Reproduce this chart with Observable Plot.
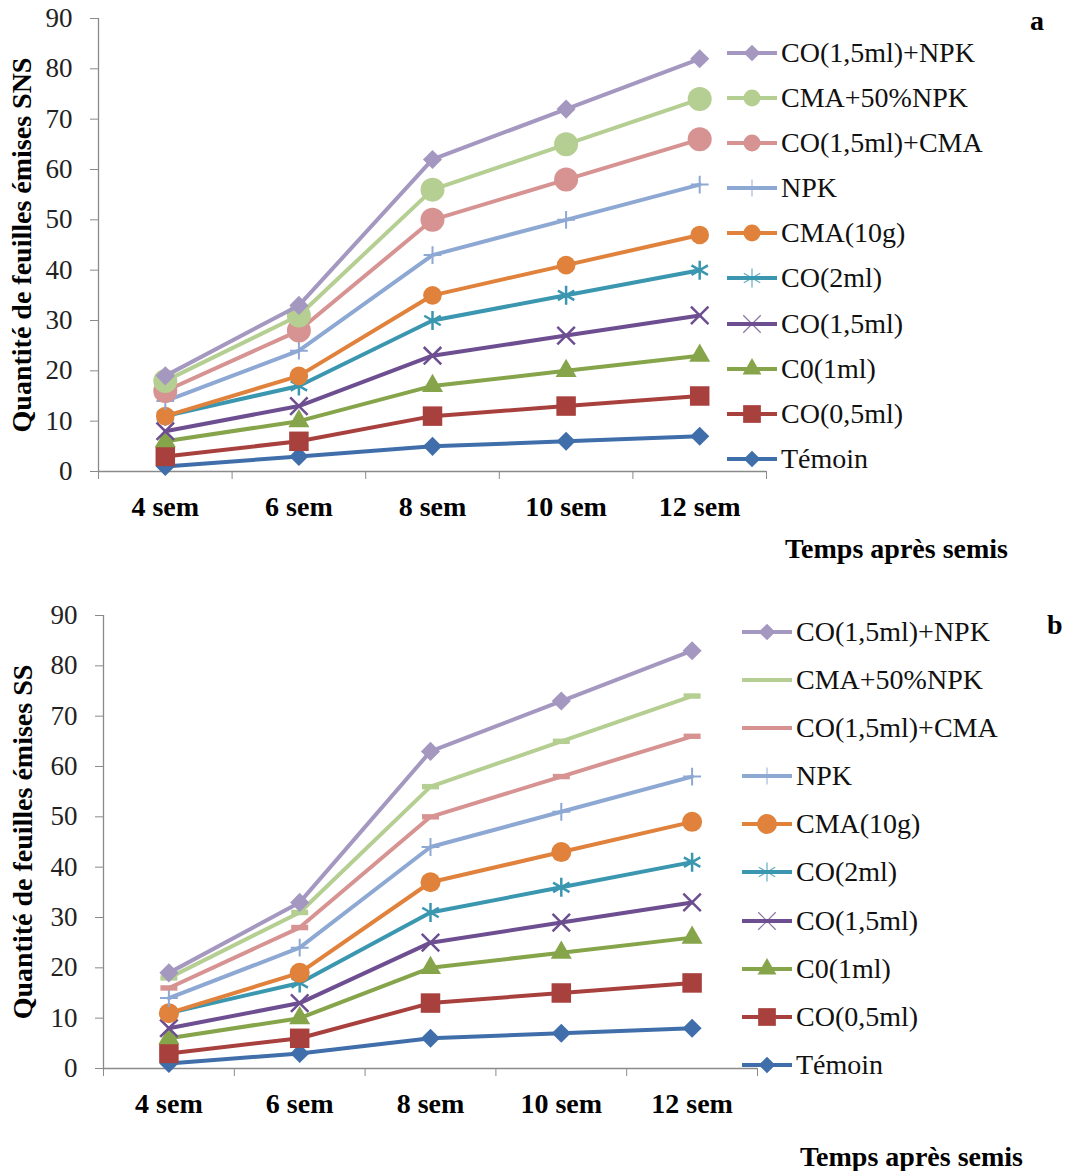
<!DOCTYPE html>
<html><head><meta charset="utf-8">
<script src="https://cdn.jsdelivr.net/npm/d3@7"></script>
<script src="https://cdn.jsdelivr.net/npm/@observablehq/plot@0.6"></script>
<style>
body{margin:0;background:#fff;}
#root{position:relative;width:1068px;height:1171px;font-family:"Liberation Serif","Times New Roman",serif;overflow:hidden;background:#fff;}
.abs{position:absolute;white-space:nowrap;}
.row{display:flex;align-items:center;white-space:nowrap;font-size:28px;line-height:28px;color:#111;}
.row svg{flex:none;margin-right:3px;}
.ttl{font-size:28px;line-height:28px;font-weight:bold;color:#000;}
</style></head><body><div id="root"></div>
<script>
// ---- categories & labels ----
const weeks = ["4 sem", "6 sem", "8 sem", "10 sem", "12 sem"];
const seriesNames = ["Témoin", "CO(0,5ml)", "C0(1ml)", "CO(1,5ml)", "CO(2ml)", "CMA(10g)", "NPK", "CO(1,5ml)+CMA", "CMA+50%NPK", "CO(1,5ml)+NPK"];
const yTicks = [0, 10, 20, 30, 40, 50, 60, 70, 80, 90];
const yTitleA = "Quantité de feuilles émises SNS";
const yTitleB = "Quantité de feuilles émises SS";
const xTitle = "Temps après semis";

// ---- panel a values ----
const aTemoin = [1, 3, 5, 6, 7];
const aCO05 = [3, 6, 11, 13, 15];
const aCO1 = [6, 10, 17, 20, 23];
const aCO15 = [8, 13, 23, 27, 31];
const aCO2 = [11, 17, 30, 35, 40];
const aCMA = [11, 19, 35, 41, 47];
const aNPK = [14, 24, 43, 50, 57];
const aCOCMA = [16, 28, 50, 58, 66];
const aCMA50 = [18, 31, 56, 65, 74];
const aCONPK = [19, 33, 62, 72, 82];

// ---- panel b values ----
const bTemoin = [1, 3, 6, 7, 8];
const bCO05 = [3, 6, 13, 15, 17];
const bCO1 = [6, 10, 20, 23, 26];
const bCO15 = [8, 13, 25, 29, 33];
const bCO2 = [11, 17, 31, 36, 41];
const bCMA = [11, 19, 37, 43, 49];
const bNPK = [14, 24, 44, 51, 58];
const bCOCMA = [16, 28, 50, 58, 66];
const bCMA50 = [18, 31, 56, 65, 74];
const bCONPK = [19, 33, 63, 73, 83];

// ---- styles ----
const colors = ["#3F6EAA", "#A8403D", "#86A44A", "#6D4F91", "#3B97B0", "#E0823C", "#8EA8D4", "#D69392", "#B5CE92", "#A497C0"];
const axisGray = "#8a8a8a";
const dash = {draw(ctx, size) { const r = Math.sqrt(size / Math.PI); ctx.rect(-r, -r * 0.32, 2 * r, r * 0.64); }};
const markersA = [
  {symbol: "diamond2", r: 8.6, filled: true},
  {symbol: "square", r: 11, filled: true},
  {symbol: "triangle", r: 7.8, filled: true},
  {symbol: "times", r: 8, filled: false, sw: 2.5},
  {symbol: "asterisk", r: 9, filled: false, sw: 2.5},
  {symbol: "circle", r: 9.3, filled: true},
  {symbol: "plus", r: 5.8, filled: false, sw: 2},
  {symbol: "circle", r: 12, filled: true},
  {symbol: "circle", r: 12, filled: true},
  {symbol: "diamond2", r: 8.6, filled: true}
];
const markersB = markersA.map((m, k) => (k === 7 || k === 8) ? {symbol: dash, r: 8.5, filled: true} : (k === 5 ? {...m, r: 10} : m));
const legendA = [
  {sym: d3.symbolDiamond2, r: 7.5, filled: true}, {sym: d3.symbolSquare, r: 10, filled: true}, {sym: d3.symbolTriangle, r: 7, filled: true},
  {sym: d3.symbolTimes, r: 8, filled: false}, {sym: d3.symbolAsterisk, r: 9, filled: false}, {sym: d3.symbolCircle, r: 8.5, filled: true},
  {sym: d3.symbolPlus, r: 5.5, filled: false}, {sym: d3.symbolCircle, r: 8.5, filled: true}, {sym: d3.symbolCircle, r: 8.5, filled: true},
  {sym: d3.symbolDiamond2, r: 7.5, filled: true}
];
const legendB = legendA.map((m, k) => (k === 7 || k === 8) ? null : (k === 5 ? {...m, r: 10} : m));

function buildData(vals) {
  const rows = [];
  seriesNames.forEach((s, k) => vals[k].forEach((v, i) => rows.push({series: s, k, i: i + 1, v})));
  return rows;
}

function panel(vals, markers, o) {
  const data = buildData(vals);
  const boundaries = d3.range(0.5, weeks.length + 1, 1);
  const centers = d3.range(1, weeks.length + 1);
  const marks = [
    Plot.ruleY([0], {stroke: axisGray, strokeWidth: 1.3}),
    Plot.ruleX([0.5], {stroke: axisGray, strokeWidth: 1.3}),
    Plot.axisY({ticks: yTicks, tickSize: 8, tickPadding: 18, stroke: axisGray, fill: "#222", fontSize: 27, label: null}),
    Plot.axisX({ticks: boundaries, tickSize: 8, tickFormat: () => "", stroke: axisGray, label: null}),
    Plot.axisX({ticks: centers, tickSize: 0, tickPadding: 25, tickFormat: i => weeks[i - 1], fontSize: 28, fontWeight: "bold", fill: "#000", label: null}),
    Plot.text([o.yTitle], {frameAnchor: "left", textAnchor: "middle", lineAnchor: "middle", rotate: -90, dx: o.titleDx, fontSize: 28, fontWeight: "bold", fill: "#000"})
  ];
  seriesNames.forEach((s, k) => {
    const m = markers[k];
    const rows = data.filter(d => d.k === k);
    marks.push(Plot.line(rows, {x: "i", y: "v", stroke: colors[k], strokeWidth: 4, strokeLinejoin: "round"}));
    marks.push(Plot.dot(rows, {x: "i", y: "v", symbol: m.symbol, r: m.r,
      fill: m.filled ? colors[k] : "none", stroke: m.filled ? "none" : colors[k], strokeWidth: m.sw || 0}));
  });
  return Plot.plot({
    width: 1068, height: o.height,
    marginLeft: o.ml, marginRight: o.mr, marginTop: o.mt, marginBottom: o.mb,
    x: {type: "linear", domain: [0.5, weeks.length + 0.5]},
    y: {type: "linear", domain: [0, 90]},
    style: {fontFamily: "'Liberation Serif', 'Times New Roman', serif", background: "transparent", color: "#222", overflow: "visible"},
    marks
  });
}

function legend(legendStyle, top, left, step) {
  const div = document.createElement("div");
  div.className = "abs";
  div.style.top = top + "px";
  div.style.left = left + "px";
  const order = d3.range(seriesNames.length).reverse();
  order.forEach(k => {
    const row = document.createElement("div");
    row.className = "row";
    row.style.height = step + "px";
    const svg = d3.create("svg").attr("width", 51).attr("height", 24);
    svg.append("line").attr("x1", 0).attr("x2", 50).attr("y1", 12).attr("y2", 12)
      .attr("stroke", colors[k]).attr("stroke-width", 4);
    const m = legendStyle[k];
    if (m) {
      svg.append("path").attr("transform", "translate(25,12)")
        .attr("d", d3.symbol(m.sym, Math.PI * m.r * m.r)())
        .attr("fill", m.filled ? colors[k] : "none")
        .attr("stroke", m.filled ? "none" : colors[k])
        .attr("stroke-width", m.filled ? 0 : 1.2)
        .attr("stroke-opacity", 0.8);
    }
    row.appendChild(svg.node());
    const t = document.createElement("span");
    t.textContent = seriesNames[k];
    row.appendChild(t);
    div.appendChild(row);
  });
  return div;
}

function text(str, top, left, cls, extra) {
  const d = document.createElement("div");
  d.className = "abs " + cls;
  d.style.top = top + "px";
  d.style.left = left + "px";
  d.textContent = str;
  if (extra) Object.assign(d.style, extra);
  return d;
}

const root = document.getElementById("root");

const pa = panel([aTemoin, aCO05, aCO1, aCO15, aCO2, aCMA, aNPK, aCOCMA, aCMA50, aCONPK], markersA,
  {height: 560, ml: 98, mr: 302, mt: 18, mb: 89, yTitle: yTitleA, titleDx: -76});
const wa = document.createElement("div"); wa.className = "abs"; wa.style.top = "0px"; wa.style.left = "0px";
wa.appendChild(pa); root.appendChild(wa);

const pb = panel([bTemoin, bCO05, bCO1, bCO15, bCO2, bCMA, bNPK, bCOCMA, bCMA50, bCONPK], markersB,
  {height: 560, ml: 103, mr: 311, mt: 15, mb: 92, yTitle: yTitleB, titleDx: -80});
const wb = document.createElement("div"); wb.className = "abs"; wb.style.top = "600px"; wb.style.left = "0px";
wb.appendChild(pb); root.appendChild(wb);

root.appendChild(legend(legendA, 53 - 22.55, 727, 45.1));
root.appendChild(legend(legendB, 632 - 24.05, 742, 48.1));

root.appendChild(text(xTitle, 535, 785, "ttl"));
root.appendChild(text(xTitle, 1143, 800, "ttl"));
root.appendChild(text("a", 7, 1030, "ttl"));
root.appendChild(text("b", 611, 1047, "ttl"));
</script></body></html>
